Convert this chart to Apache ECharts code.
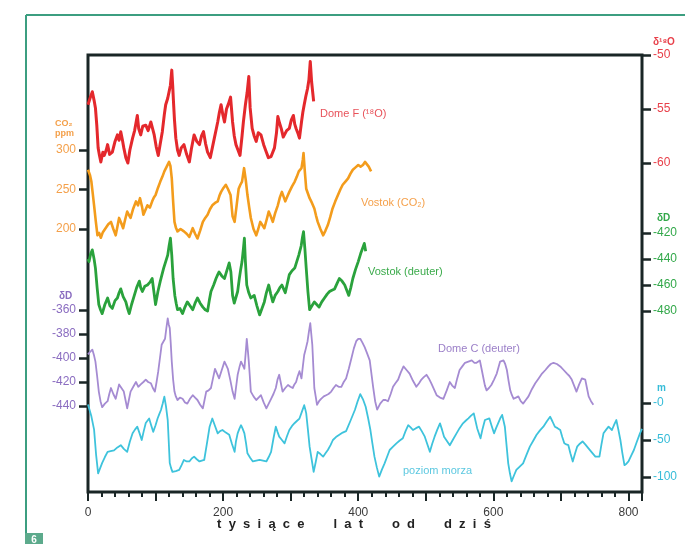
<!DOCTYPE html>
<html>
<head>
<meta charset="utf-8">
<script src="https://cdn.jsdelivr.net/npm/echarts@6/dist/echarts.min.js"></script>
<style>
html, body { margin: 0; padding: 0; background: #fff; }
#chart { width: 685px; height: 544px; }
</style>
</head>
<body>
<div id="chart"></div>
<script>
// wiek w tysiącach lat
var domeFAge = [0,3,6.4,9,11,13,15,17,19,22,24,27,29,32,36,40,43.5,46,48.5,51,53,56,59,62,66,69,73,75,78,81,85.5,89,93,96,98,101,104,107,110,113,115,118,120,122,124,125.5,126.5,128,130,132.5,135,138,142,146,150,153,157,161,165,168,171,174,177,181,184,187,190,192,194.5,197,199.5,202,205,208,211,214,216.5,219,222,225,228,230,233,235.5,238,240,243,246,249,252,256,260,264,267,271,276,279,281,283.5,286,289,291,294,298,301,304,306,308,311,313,316,318,320,322.5,325,327,329,331,334];
var domeFO18 = [-54.6,-54.0,-53.4,-54.2,-54.9,-56.5,-58.6,-59.3,-59.9,-59.0,-59.3,-58.8,-58.3,-59.2,-59.0,-58.0,-57.4,-57.9,-57.1,-57.9,-58.6,-59.5,-60.0,-58.8,-57.7,-57.0,-55.6,-56.8,-57.4,-56.6,-56.5,-57.0,-56.2,-56.9,-57.4,-58.5,-59.3,-58.2,-57.1,-55.5,-54.6,-54.0,-53.4,-52.8,-51.4,-53.0,-54.3,-56.0,-57.7,-58.8,-59.3,-58.6,-58.3,-59.2,-59.9,-58.7,-57.4,-58.0,-58.3,-57.5,-57.1,-58.2,-59.0,-59.5,-58.6,-57.7,-56.8,-56.2,-55.3,-54.6,-55.5,-56.2,-55.0,-54.5,-53.9,-56.2,-57.5,-58.3,-58.8,-59.3,-57.5,-56.2,-54.6,-53.5,-52.0,-54.9,-56.8,-57.5,-58.0,-57.2,-57.4,-58.3,-59.0,-59.5,-59.4,-58.6,-57.2,-55.7,-56.3,-56.8,-57.6,-57.7,-57.0,-56.8,-56.0,-55.6,-56.4,-56.8,-57.3,-57.7,-56.2,-55.3,-54.6,-53.8,-53.1,-52.3,-50.6,-52.5,-54.3];

var vostokCO2Age = [0,3,5,7,9,11.5,14,16.5,19,22,26,30,34,37.5,41,43.5,46,49,52,55,58,60.5,63,67,71,74,77,80,82,85,88,91.5,95,97.5,100,103.5,107,110,113,116.5,120,122,124,126,128,130,132.5,137,142,146,150,155,158.5,162,166,170,173.5,177,180.5,184,188,192,194.5,197,200.5,204,207.5,211,213,214,217,220,223,225.5,228,231,233.5,236,238.5,241,245,249,252,255,258,261,264.5,267.5,270.5,273.5,277,281,284,287,289.5,292,295,298,302,306,309,312,316,318,319,321,323,325.5,328,331.5,335,337.5,340,344,348,351.5,355,358.5,362,366,370,373.5,377,381,385,388.5,392,396,400,403.5,407,410,412,415.5,419];
var vostokCO2 = [275,268,260,245,230,210,192,195,189,196,201,206,209,200,192,203,214,208,201,212,222,218,214,226,235,230,239,228,218,224,230,227,235,240,243,252,260,266,273,279,285,280,264,235,209,202,197,200,197,194,190,201,194,188,198,209,214,218,225,230,233,235,242,247,252,256,250,243,225,216,209,230,251,256,260,277,262,243,228,214,200,192,200,209,205,201,212,222,216,209,220,230,240,247,241,235,241,247,254,260,266,273,277,288,296,272,251,245,239,233,226,217,209,200,192,198,205,215,226,235,243,250,256,260,264,270,275,278,281,279,281,285,283,279,273];

var vostokDAge = [0,1.5,4,6.4,9,11,13.5,16,18.5,21,25,29,32.5,36,40,43.5,46,48.5,52,56,58.5,61,64.5,68,72,76,78,80.5,84,88,91.5,95,97.5,100,103.5,107,109.5,112,115,118,120,122,124,126,128.5,130.5,132.5,136,140,143.5,147,151,155,158.5,162,166,170,173.5,177,179.5,182,186,189.5,192,194,198,202,205.5,209,211.5,214,216.5,219,221.5,224,226,228,230,231.5,233,235,238,241,243.5,246,250,254,257.5,261,264,267.5,270.5,273.5,277,281,284,287,289.5,292,295,298,302,306,309,312,315.5,317.5,319,321,323,325.5,328,331.5,335,338.5,342,346,350,354,357.5,361,365,368.5,372,376,380,383,386,389,392,396,400,403.5,407,409,411];
var vostokD = [-440,-442,-436,-433,-440,-447,-462,-475,-479,-482,-475,-470,-476,-478,-472,-470,-466,-463,-469,-473,-478,-482,-475,-469,-462,-457,-462,-465,-461,-460,-458,-455,-465,-475,-465,-457,-452,-447,-442,-437,-430,-424,-437,-455,-468,-474,-479,-478,-482,-477,-473,-476,-479,-474,-470,-474,-477,-479,-480,-472,-465,-460,-455,-452,-450,-453,-455,-449,-443,-450,-468,-474,-475,-465,-455,-448,-442,-432,-424,-442,-460,-466,-470,-469,-468,-476,-483,-478,-473,-466,-460,-467,-473,-468,-465,-462,-460,-463,-466,-459,-452,-449,-447,-442,-437,-430,-423,-419,-432,-447,-465,-479,-476,-473,-475,-477,-473,-470,-467,-465,-464,-463,-459,-455,-457,-460,-464,-468,-462,-455,-448,-442,-436,-431,-428,-434];

var domeCAge = [0,3,6.4,9,11,13.5,16,18.5,21,25,29,31.5,34,37.5,41,43.5,46,49.5,53,55.5,58,60.5,63,67,71,74.5,78,82,85.5,89,93,96,99,101.5,104,106.5,109,111.5,114,116,118,119.5,121,122.5,124,126,128,130,132.5,136,140,143.5,147,151,155,158.5,162,166,170,172.5,175,178.5,182,185,188,191,194,198,202,204.5,207,210.5,214,217,219,221.5,224,226.5,229,231.5,233.5,235,236.5,238,239.5,241,245,249,252.5,256,260,264,267.5,271,274.5,278,280.5,283,285.5,288,292,296,299.5,303,305.5,308,310.5,313,316,318,320,322.5,325,327,329,330.5,332,333.5,335,337,339,342,345,349,352.5,356,360,363.5,367,371,375,378.5,382,386,390,393.5,397,400,403,406,409.5,413,417,419.5,422,425,428,432.5,437,440.5,444,448,451.5,455,459,463,467,471.5,476,481,486,490,493.5,497,501,504.5,508,512,516,521,526,531,535.5,539,543,546.5,550,554,558,563,568,572,575,577.5,580,582.5,585,587.5,590,593.5,597,601,605,607.5,610,612.5,615,617.5,620,622.5,625,627.5,630,633.5,637,640.5,644,648,652,657,662,667,672,677,681.5,685,689,694,699,704,709,712.5,716,719.5,723,727,731,733.5,736,738.5,741,744.5,748];
var domeCD = [-397,-395,-393,-398,-403,-415,-428,-436,-441,-438,-436,-430,-425,-430,-434,-428,-422,-425,-428,-435,-442,-435,-428,-424,-420,-424,-422,-420,-418,-420,-421,-425,-428,-420,-411,-400,-389,-388,-384,-375,-367,-372,-375,-388,-403,-418,-428,-432,-435,-433,-434,-437,-438,-434,-431,-433,-435,-439,-442,-435,-428,-427,-425,-417,-409,-413,-417,-410,-403,-406,-409,-418,-428,-434,-425,-414,-408,-403,-406,-409,-395,-384,-393,-403,-415,-428,-432,-435,-433,-431,-437,-442,-438,-434,-430,-425,-418,-414,-421,-428,-425,-422.5,-424,-425,-422,-420,-415,-411,-417,-407,-397.5,-392,-386,-378,-371,-380,-389,-407,-425,-432,-439,-436,-434,-432,-431,-430,-428,-425,-422.5,-424,-424,-420,-417,-409,-400,-392,-386,-384,-384,-387,-391,-396,-402,-413,-424,-436,-443,-438,-435,-435,-436,-430,-424,-421,-418,-412,-407,-410,-413,-419,-424,-421,-418,-416,-414,-417,-421,-426,-431,-433,-434,-427,-420,-423,-425,-417,-410,-407,-404,-403,-402,-404,-404,-403,-402,-409,-416,-423,-427,-425,-422.5,-418,-413,-408,-403,-402,-402,-405,-410,-419,-427,-431,-434,-433,-432,-436,-438,-435,-432,-426,-421,-417,-413,-410,-407,-405,-404,-405,-407,-410,-413,-415,-418,-423,-428,-422,-417,-417,-418,-425,-432,-436,-439];

var seaAge = [0,1.5,5,9,12,15,18,21,25,29,33.5,38.5,43.5,48.5,53,58,62,66,69.5,73,76,79.5,82.5,85.5,90.5,93.5,96.5,100,103,105.5,108,110.5,113,115.5,118,119.5,121,123,125,130,135,138.5,142,146,150,153.5,157,161,165,168.5,172,176,180,184,188,192,195.5,199,204,209,213,217,219,221.5,224,226.5,229,231.5,234,236,240,244,249,254,259,264,267.5,271,274.5,278,280.5,283,287,291,294.5,298,302,306,309.5,313,316.5,320,321.5,323,325.5,328,331,334,337,340,344,348,351.5,355,359,362.5,367,372,377,382,388.5,395,399,403,407,411,414.5,418,421,424,427.5,431,435,439,443,446.5,451.5,456.5,461,466,470,474,477.5,481,485.5,490,494,498.5,502,506,509.5,513,517,521,524,527,531,535.5,540.5,545.5,550,555,559,563,567,571,573.5,576,578.5,581,584,587.5,594,597.5,601,604,607,610,613,615,617,619.5,622,624.5,627,630.5,634,639,644,649,654,659,664,669,674,679,684,687.5,691,695,699,702,705,708,711,714,717.5,721,724,728,732,736,740.5,746,751,754,757,760,763,767,770.5,773,775.5,779,782,785,788,791,794,797,800,804,808,812.5,817,820];
var seaLevel = [-2,-3,-18,-36,-70,-95,-88,-81,-73,-66,-65,-64,-60,-57,-62,-66,-52,-41,-36,-32,-40,-50,-38,-27,-21,-30,-39,-30,-21,-15,-9.5,-1,8.5,-5,-23,-52,-81,-88,-93,-92,-90.5,-84,-77,-79,-79,-75,-72.5,-76,-79,-78,-77,-55,-32,-21,-31,-41,-38,-36.5,-40,-43,-55,-66,-52,-41,-35,-30,-35,-41,-55,-68,-74,-79,-78,-77,-78,-79,-73,-66,-48,-32,-39,-45.5,-50,-54.5,-45,-36.5,-31,-27,-24,-21,-12,-3,-8,-14,-36,-59,-76,-93,-80,-66,-69,-72.5,-68,-63.5,-57,-50,-46,-43,-40,-38,-24,-9.5,2,12,5,-5,-20,-36.5,-55,-72.5,-87,-99.5,-90,-81.5,-72,-63.5,-59,-54.5,-51,-47.7,-38,-30,-33,-36.5,-34,-32,-38,-45.5,-55,-66,-55,-45.5,-36,-27.5,-36,-45.5,-51,-57,-49,-41,-34,-27.5,-24,-20.7,-17,-14,-24,-34,-41,-47.7,-35,-23,-20.7,-31,-41,-34,-27.5,-21,-16,-24,-32,-57,-81.5,-95,-106,-98,-90.5,-86,-81.5,-70,-59,-51,-43,-37,-32,-25,-18.5,-25,-32,-34,-36.5,-46,-54.5,-56,-57,-68,-79,-68,-59,-55,-52,-56,-61,-67,-72.5,-72.5,-72.5,-56,-41,-36,-32,-34,-36.5,-29,-23,-36,-50,-68,-84,-82,-79,-71,-63.5,-52,-41,-35];

var xTicks = [0, 200, 400, 600, 800];
var o18Ticks = [-60, -55, -50];
var co2Ticks = [200, 250, 300];
var vostokDTicks = [-480, -460, -440, -420];
var domeCTicks = [-440, -420, -400, -380, -360];
var seaTicks = [-100, -50, 0];

function pairs(a, b) {
    var out = [];
    for (var i = 0; i < a.length; i++) out.push([a[i], b[i]]);
    return out;
}

var frameColor = '#1a2626';
var plotLeft = 88, plotRight = 43;

// pasma osi
var bands = [
    { top: 55,  height: 108, ticks: o18Ticks,     pos: 'right', color: '#e8404a' },
    { top: 150, height: 79,  ticks: co2Ticks,     pos: 'left',  color: '#f4a04a' },
    { top: 233, height: 78,  ticks: vostokDTicks, pos: 'right', color: '#32a84a' },
    { top: 310, height: 96,  ticks: domeCTicks,   pos: 'left',  color: '#8a6cc0' },
    { top: 403, height: 74,  ticks: seaTicks,     pos: 'right', color: '#36bcd8' }
];

var grids = [{ left: plotLeft, right: plotRight, top: 55, bottom: 52, show: true,
               borderColor: frameColor, borderWidth: 3, backgroundColor: 'transparent' }];
var xAxes = [
    { type: 'value', gridIndex: 0, min: 0, max: 820, interval: 20,
      axisLine: { show: false, onZero: false }, splitLine: { show: false },
      axisTick: { length: 5, lineStyle: { color: frameColor, width: 2 } },
      axisLabel: { show: false } },
    { type: 'value', gridIndex: 0, min: 0, max: 820, interval: 100, position: 'bottom',
      axisLine: { show: false, onZero: false }, splitLine: { show: false },
      axisTick: { length: 9, lineStyle: { color: frameColor, width: 2 } },
      axisLabel: { color: '#3a3a3a', fontSize: 12, margin: 15, fontFamily: 'Liberation Sans',
                   formatter: function (v) { return xTicks.indexOf(v) >= 0 ? String(v) : ''; } } }
];
var yAxes = [{ type: 'value', gridIndex: 0, show: false, min: 0, max: 1 }];

bands.forEach(function (b, i) {
    grids.push({ left: plotLeft, right: plotRight, top: b.top, height: b.height });
    xAxes.push({ type: 'value', gridIndex: i + 1, min: 0, max: 820, show: false,
                 axisLine: { onZero: false } });
    var step = b.ticks[1] - b.ticks[0];
    yAxes.push({
        type: 'value', gridIndex: i + 1, position: b.pos,
        min: b.ticks[0], max: b.ticks[b.ticks.length - 1], interval: step,
        axisLine: { show: false, onZero: false }, splitLine: { show: false },
        axisTick: { show: true, length: 9, lineStyle: { color: frameColor, width: 2.5 } },
        axisLabel: { color: b.color, fontSize: 12, margin: b.pos === 'left' ? 12 : 11,
                     fontFamily: 'Liberation Sans',
                     formatter: i === 4 ? function (v) { return '-' + Math.abs(v); } : null }
    });
});

function lineSeries(idx, data, color, width) {
    return {
        type: 'line', xAxisIndex: idx + 1, yAxisIndex: idx, data: data,
        showSymbol: false, symbol: 'none', clip: false, smooth: false,
        lineStyle: { color: color, width: width, join: 'round' }, itemStyle: { color: color }, z: 3
    };
}

var series = [
    lineSeries(1, pairs(domeFAge, domeFO18), '#e4282c', 3),
    lineSeries(2, pairs(vostokCO2Age, vostokCO2), '#f39c1c', 2.6),
    lineSeries(3, pairs(vostokDAge, vostokD), '#2aa23c', 2.8),
    lineSeries(4, pairs(domeCAge, domeCD), '#a58bd2', 1.8),
    lineSeries(5, pairs(seaAge, seaLevel), '#3ec3dc', 1.8)
];

function txt(x, y, s, color, size, opts) {
    opts = opts || {};
    return { type: 'text', left: x, top: y, z: 10,
             style: { text: s, fill: color, fontSize: size, fontFamily: 'Liberation Sans',
                      fontWeight: opts.bold ? 'bold' : 'normal', textAlign: opts.align || 'left',
                      textVerticalAlign: 'middle' } };
}

var graphics = [
    { type: 'line', shape: { x1: 26, y1: 15, x2: 685, y2: 15 }, style: { stroke: '#3c9e80', lineWidth: 2 } },
    { type: 'line', shape: { x1: 26, y1: 15, x2: 26, y2: 533 }, style: { stroke: '#3c9e80', lineWidth: 2 } },
    { type: 'rect', shape: { x: 25, y: 533, width: 18, height: 11 }, style: { fill: '#5caa8c' } },
    { type: 'text', x: 34, y: 540, style: { text: '6', fill: '#fff', fontSize: 10, fontWeight: 'bold',
      fontFamily: 'Liberation Sans', textAlign: 'center', textVerticalAlign: 'middle' } },
    txt(55, 119, 'CO₂', '#f4a04a', 9, { bold: true }),
    txt(55, 129, 'ppm', '#f4a04a', 9, { bold: true }),
    txt(59, 291, 'δD', '#8a6cc0', 10, { bold: true }),
    txt(653, 37, 'δ¹⁸O', '#e8404a', 10, { bold: true }),
    txt(657, 213, 'δD', '#32a84a', 10, { bold: true }),
    txt(657, 383, 'm', '#36bcd8', 10, { bold: true }),
    txt(320, 108, 'Dome F (¹⁸O)', '#e8525a', 11),
    txt(361, 197, 'Vostok (CO₂)', '#f5a04a', 11),
    txt(368, 266, 'Vostok (deuter)', '#3aaa4a', 11),
    txt(438, 343, 'Dome C (deuter)', '#9b7fc8', 11),
    txt(403, 465, 'poziom morza', '#5cc8e0', 11),
    { type: 'text', x: 354, y: 524, z: 10,
      style: { text: 't  y  s  i  ą  c  e        l  a  t        o  d        d  z  i  ś', fill: '#222',
               fontSize: 13, fontWeight: 'bold', fontFamily: 'Liberation Sans',
               textAlign: 'center', textVerticalAlign: 'middle' } }
];

var myChart = echarts.init(document.getElementById('chart'), null, { renderer: 'canvas' });
var option = {
    animation: false,
    backgroundColor: '#fff',
    grid: grids,
    xAxis: xAxes,
    yAxis: yAxes,
    visualMap: {
        show: false, type: 'piecewise', seriesIndex: 3, dimension: 0,
        pieces: [
            { lt: 102, color: '#4e3ea6' },
            { gte: 102, lt: 420, color: '#9c82cc' },
            { gte: 420, color: '#c2aae2' }
        ]
    },
    series: series,
    graphic: graphics
};
myChart.setOption(option);
</script>
</body>
</html>
